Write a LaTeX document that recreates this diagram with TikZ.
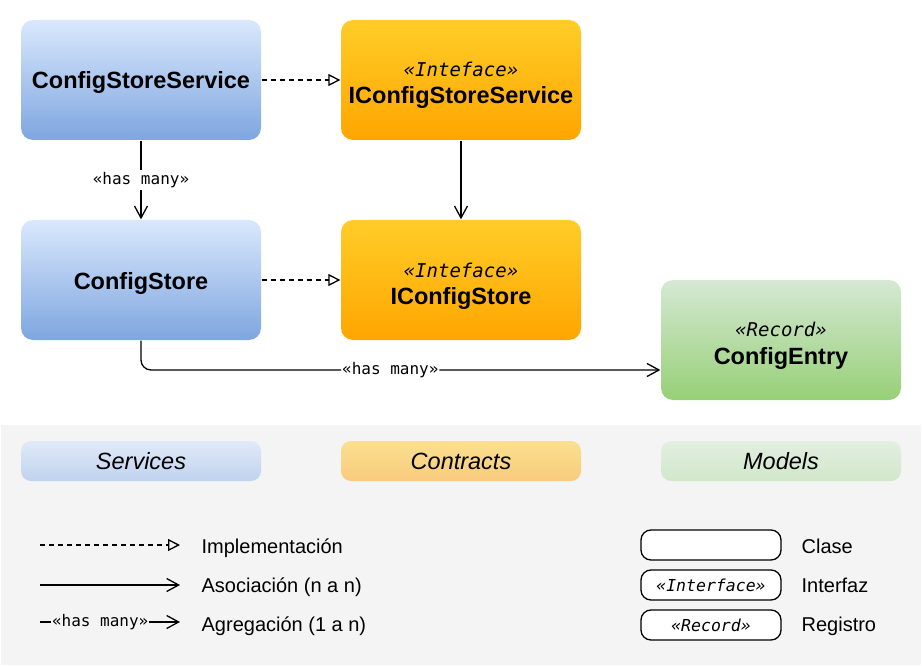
\documentclass[tikz,border=0pt]{standalone}
\usepackage{fontspec}
\setmainfont{Liberation Sans}
\setmonofont{DejaVu Sans Mono}
\usetikzlibrary{arrows.meta}

\definecolor{svcTop}{HTML}{DAE8FC}
\definecolor{svcBot}{HTML}{7EA6E0}
\definecolor{ctrTop}{HTML}{FFCD28}
\definecolor{ctrBot}{HTML}{FFA500}
\definecolor{mdlTop}{HTML}{D5E8D4}
\definecolor{mdlBot}{HTML}{97D077}
\definecolor{lsvcTop}{HTML}{E1EAF8}
\definecolor{lsvcBot}{HTML}{BFD2EE}
\definecolor{lctrTop}{HTML}{FBE08F}
\definecolor{lctrBot}{HTML}{F8CB7E}
\definecolor{lmdlTop}{HTML}{E3EFE1}
\definecolor{lmdlBot}{HTML}{D1E7CA}
\definecolor{legBg}{HTML}{F4F4F4}

\newcommand\boxtitle{\fontsize{23.5}{27}\selectfont\bfseries}
\newcommand\stereofont{\fontsize{19}{22}\selectfont\ttfamily\itshape}
\newcommand\manyfont{\fontsize{16}{18}\selectfont\ttfamily}
\newcommand\pillfont{\fontsize{23.5}{27}\selectfont\itshape}
\newcommand\legfont{\fontsize{20}{23}\selectfont}
\newcommand\legstereo{\fontsize{16.5}{19}\selectfont\ttfamily\itshape}

\begin{document}
\begin{tikzpicture}
  [x=1pt,y=-1pt,line width=1.3pt,
   every node/.style={inner sep=0pt},
   cls/.style={rounded corners=12pt,minimum width=240pt,minimum height=120pt},
   svc/.style={cls,top color=svcTop,bottom color=svcBot},
   ctr/.style={cls,top color=ctrTop,bottom color=ctrBot},
   mdl/.style={cls,top color=mdlTop,bottom color=mdlBot},
   clsname/.style={anchor=base,font=\boxtitle},
   stereo/.style={anchor=base,font=\stereofont},
   pill/.style={rounded corners=10pt,minimum width=240pt,minimum height=40pt,
     font=\pillfont},
   lbox/.style={draw,fill=white,rounded corners=10pt,minimum width=140pt,
     minimum height=30pt,font=\legstereo},
   legtext/.style={anchor=base west,font=\legfont},
   manylabel/.style={fill=white,inner xsep=1pt,inner ysep=2pt,font=\manyfont},
   impl/.style={dash pattern=on 5pt off 4pt,
     -{Triangle[open,length=12pt,width=12pt]}},
   assoc/.style={-{Straight Barb[length=12pt,width=13pt]}}]
  \useasboundingbox (0,0) rectangle (922,666);

  \node[svc] (css) at (141,80) {};
  \node[ctr] (ics) at (461,80) {};
  \node[svc] (cs) at (141,280) {};
  \node[ctr] (ic) at (461,280) {};
  \node[mdl] (ce) at (781,340) {};

  \node[clsname] (cssname) at (141,89) {ConfigStoreService};
  \node[stereo] (icsst) at (461,77) {«Inteface»};
  \node[clsname] (icsname) at (461,104) {IConfigStoreService};
  \node[clsname] (csname) at (141,289) {ConfigStore};
  \node[stereo] (icst) at (461,277) {«Inteface»};
  \node[clsname] (icname) at (461,304) {IConfigStore};
  \node[stereo] (cest) at (781,336) {«Record»};
  \node[clsname] (cename) at (781,364) {ConfigEntry};

  \foreach \from/\to in {css/ics,cs/ic}
    \draw[impl] (\from) -- (\to);
  \draw[assoc] (ics) -- (ic);
  \draw[assoc] (css) -- node[manylabel] (hm1) {«has many»} (cs);
  \draw[assoc,rounded corners=10pt] (cs.south) |- node[manylabel,pos=.74] (hm2) {«has many»} ([yshift=-30pt]ce.west);

  \fill[legBg] (1,425) rectangle (921,665);
  \node[pill,top color=lsvcTop,bottom color=lsvcBot] (lsvc) at (141,461) {Services};
  \node[pill,top color=lctrTop,bottom color=lctrBot] (lctr) at (461,461) {Contracts};
  \node[pill,top color=lmdlTop,bottom color=lmdlBot] (lmdl) at (781,461) {Models};

  \coordinate (limpls) at (40,545);
  \coordinate (limple) at (180,545);
  \coordinate (lasscs) at (40,585);
  \coordinate (lassce) at (180,585);
  \coordinate (laggrs) at (40,622);
  \coordinate (laggre) at (180,622);
  \draw[impl] (limpls) -- (limple);
  \draw[assoc] (lasscs) -- (lassce);
  \draw[assoc] (laggrs) -- node[manylabel,pos=.43,fill=legBg] (lmany) {«has many»} (laggre);
  \node[legtext] (limpl) at (201,553) {Implementación};
  \node[legtext] (lassc) at (201,592) {Asociación (n a n)};
  \node[legtext] (laggr) at (201,631) {Agregación (1 a n)};

  \node[lbox] (lcls) at (711,545) {};
  \node[lbox] (lintf) at (711,585) {«Interface»};
  \node[lbox] (lrec) at (711,625) {«Record»};
  \node[legtext] (lclst) at (801,553) {Clase};
  \node[legtext] (lintft) at (801,592) {Interfaz};
  \node[legtext] (lrect) at (801,631) {Registro};
\end{tikzpicture}
\end{document}
